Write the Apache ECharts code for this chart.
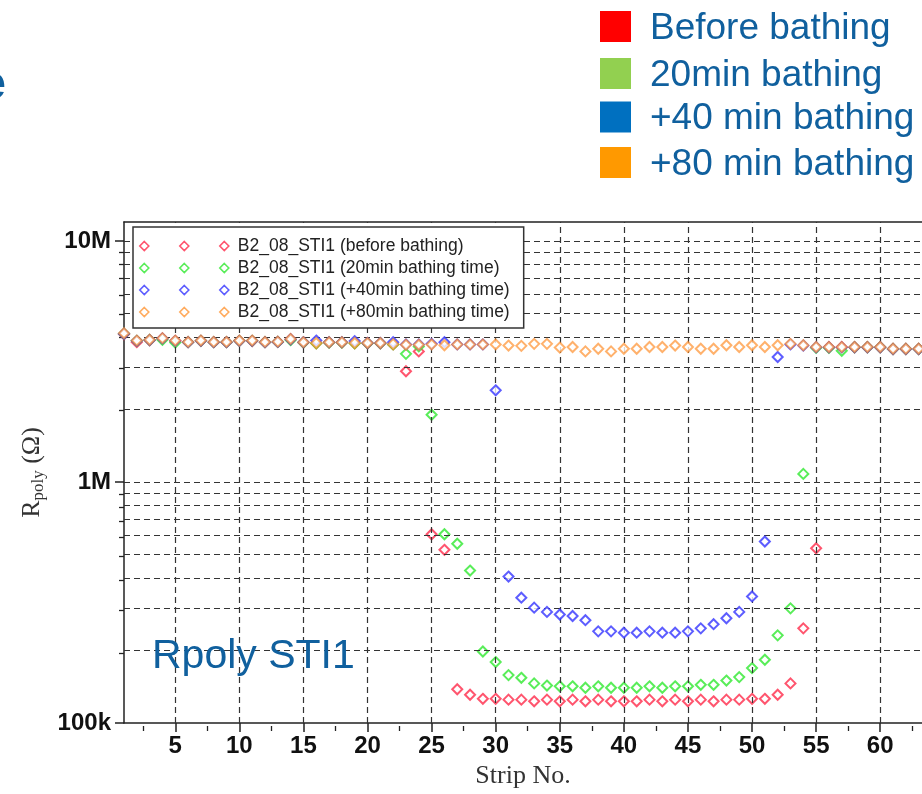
<!DOCTYPE html>
<html>
<head>
<meta charset="utf-8">
<script src="https://cdn.jsdelivr.net/npm/echarts@6/dist/echarts.min.js"></script>
<style>
html,body{margin:0;padding:0;background:#fff;}
#chart{width:922px;height:794px;}
</style>
</head>
<body>
<div id="chart"></div>
<script>
// Strip numbers 1..63
const strips = [];
for (let i = 1; i <= 63; i++) strips.push(i);

// Rpoly values (Ohm)
const beforeBathing = [
  4.10e6,3.80e6,3.87e6,3.93e6,3.84e6,3.80e6,3.85e6,3.80e6,3.80e6,3.85e6,
  3.84e6,3.80e6,3.81e6,3.90e6,3.79e6,3.76e6,3.79e6,3.79e6,3.76e6,3.76e6,
  3.76e6,3.72e6,2.88e6,3.48e6,6.07e5,5.23e5,1.38e5,1.31e5,1.26e5,1.26e5,
  1.25e5,1.25e5,1.23e5,1.25e5,1.23e5,1.25e5,1.23e5,1.25e5,1.23e5,1.23e5,
  1.23e5,1.25e5,1.23e5,1.25e5,1.23e5,1.25e5,1.23e5,1.25e5,1.25e5,1.26e5,
  1.26e5,1.31e5,1.46e5,2.47e5,5.31e5,3.62e6,3.62e6,3.62e6,3.62e6,3.62e6,
  3.56e6,3.56e6,3.56e6
];
const bathing20 = [
  4.12e6,3.85e6,3.88e6,3.89e6,3.79e6,3.80e6,3.85e6,3.80e6,3.80e6,3.85e6,
  3.85e6,3.80e6,3.81e6,3.88e6,3.79e6,3.76e6,3.79e6,3.79e6,3.76e6,3.76e6,
  3.76e6,3.72e6,3.40e6,3.65e6,1.90e6,6.07e5,5.54e5,4.29e5,1.98e5,1.79e5,
  1.58e5,1.54e5,1.46e5,1.43e5,1.42e5,1.42e5,1.40e5,1.42e5,1.40e5,1.40e5,
  1.40e5,1.42e5,1.40e5,1.42e5,1.42e5,1.44e5,1.44e5,1.50e5,1.55e5,1.69e5,
  1.83e5,2.31e5,2.99e5,1.08e6,3.60e6,3.60e6,3.50e6,3.62e6,3.62e6,3.62e6,
  3.56e6,3.56e6,3.56e6
];
const bathing40 = [
  4.12e6,3.85e6,3.88e6,3.94e6,3.85e6,3.80e6,3.85e6,3.80e6,3.80e6,3.85e6,
  3.85e6,3.80e6,3.81e6,3.91e6,3.80e6,3.86e6,3.80e6,3.80e6,3.84e6,3.77e6,
  3.77e6,3.80e6,3.72e6,3.72e6,3.74e6,3.80e6,3.72e6,3.72e6,3.72e6,2.40e6,
  4.05e5,3.31e5,3.01e5,2.89e5,2.82e5,2.78e5,2.67e5,2.40e5,2.40e5,2.37e5,
  2.37e5,2.40e5,2.37e5,2.37e5,2.40e5,2.47e5,2.57e5,2.72e5,2.89e5,3.35e5,
  5.66e5,3.30e6,3.72e6,3.68e6,3.62e6,3.62e6,3.62e6,3.62e6,3.62e6,3.62e6,
  3.56e6,3.56e6,3.56e6
];
const bathing80 = [
  4.14e6,3.86e6,3.89e6,3.95e6,3.86e6,3.81e6,3.86e6,3.81e6,3.81e6,3.86e6,
  3.86e6,3.81e6,3.82e6,3.92e6,3.80e6,3.77e6,3.80e6,3.80e6,3.77e6,3.77e6,
  3.77e6,3.73e6,3.71e6,3.71e6,3.72e6,3.69e6,3.72e6,3.72e6,3.72e6,3.72e6,
  3.68e6,3.67e6,3.74e6,3.74e6,3.61e6,3.63e6,3.48e6,3.57e6,3.48e6,3.57e6,
  3.57e6,3.63e6,3.63e6,3.68e6,3.63e6,3.57e6,3.57e6,3.69e6,3.63e6,3.69e6,
  3.63e6,3.69e6,3.74e6,3.69e6,3.63e6,3.63e6,3.63e6,3.63e6,3.63e6,3.63e6,
  3.57e6,3.57e6,3.57e6
];

const seriesNames = [
  'B2_08_STI1 (before bathing)',
  'B2_08_STI1 (20min bathing time)',
  'B2_08_STI1 (+40min bathing time)',
  'B2_08_STI1 (+80min bathing time)'
];
const slideLegend = ['Before bathing', '20min bathing', '+40 min bathing', '+80 min bathing'];

// Axis ticks / gridlines (data units)
const xLabelTicks = [5,10,15,20,25,30,35,40,45,50,55,60];
const xMinorTicks = [2.5,7.5,12.5,17.5,22.5,27.5,32.5,37.5,42.5,47.5,52.5,57.5,62.5];
const yMajorTicks = [1e5, 1e6, 1e7];
const yMinorTicks = [2e5,3e5,4e5,5e5,6e5,7e5,8e5,9e5,2e6,3e6,4e6,5e6,6e6,7e6,8e6,9e6];
const yGridLines = [2e5,3e5,4e5,5e5,6e5,7e5,8e5,9e5,1e6,2e6,3e6,4e6,5e6,6e6,7e6,8e6,9e6,1e7];
const xGridLines = [5,10,15,20,25,30,35,40,45,50,55,60];

const X_MIN = 1, X_MAX = 63.26, Y_MIN = 1e5, Y_MAX = 1.198e7;

const colors = ['#ff2a4a', '#2fe82f', '#3535ff', 'rgba(255,140,40,0.85)'];
const legendColors = ['#ff2a4a', '#2fe82f', '#3535ff', '#ff9636'];
const slideColors = ['#ff0000', '#92d050', '#0070c0', '#ff9900'];
const blue = '#10609e';

function pairs(vals) { return strips.map((s, i) => [s, vals[i]]); }

const chart = echarts.init(document.getElementById('chart'), null, {renderer: 'canvas'});

const gridRect = {left: 124, top: 222, right: 0, bottom: 68};
const tickFont = {fontFamily: 'Liberation Sans, Arial, sans-serif', fontWeight: 'bold', fontSize: 24, color: '#111'};

const markLineData = yGridLines.map(v => ({yAxis: v})).concat(xGridLines.map(v => ({xAxis: v})));

const diamondIcon = 'path://M4.5 0L9 4.5L4.5 9L0 4.5Z M44.5 0L49 4.5L44.5 9L40 4.5Z M84.5 0L89 4.5L84.5 9L80 4.5Z';

const dataSeries = [beforeBathing, bathing20, bathing40, bathing80].map((vals, k) => ({
  name: seriesNames[k],
  type: 'scatter',
  xAxisIndex: 0, yAxisIndex: 0,
  symbol: 'diamond',
  symbolSize: 10,
  z: 3 + k,
  itemStyle: {color: '#ffffff', borderColor: colors[k], borderWidth: 2},
  data: pairs(vals)
}));

const slideGraphics = [];
slideLegend.forEach((t, i) => {
  const cy = [26.5, 73.5, 117, 162.5][i];
  slideGraphics.push({type: 'rect', shape: {x: 600, y: cy - 15.5, width: 31, height: 31}, style: {fill: slideColors[i]}});
  slideGraphics.push({type: 'text', x: 650, y: cy + 2, style: {text: t, font: '37px "Liberation Sans", Arial, sans-serif', fill: blue, verticalAlign: 'middle', textAlign: 'left'}});
});
slideGraphics.push({type: 'text', x: 6, y: 86, style: {text: 'e', font: 'bold 48px "Liberation Sans", Arial, sans-serif', fill: blue, verticalAlign: 'middle', textAlign: 'right'}});
slideGraphics.push({type: 'text', x: 152, y: 657, z: 50, style: {text: 'Rpoly STI1', font: '41px "Liberation Sans", Arial, sans-serif', fill: blue, verticalAlign: 'middle', textAlign: 'left'}});

const option = {
  animation: false,
  backgroundColor: '#ffffff',
  grid: [
    Object.assign({}, gridRect),
    Object.assign({}, gridRect)
  ],
  legend: {
    data: seriesNames.map((n, k) => ({name: n, itemStyle: {color: '#ffffff', borderColor: legendColors[k], borderWidth: 1.6}})),
    orient: 'vertical',
    left: 133, top: 227,
    padding: [10, 14, 7, 6],
    itemWidth: 89, itemHeight: 9, itemGap: 4,
    icon: diamondIcon,
    borderColor: '#333', borderWidth: 1.5,
    backgroundColor: '#ffffff',
    textStyle: {fontFamily: 'Liberation Sans, Arial, sans-serif', fontSize: 17.5, color: '#222', padding: [0, 0, 0, 4]},
    selectedMode: false,
    z: 20
  },
  xAxis: [
    {
      type: 'value', gridIndex: 0, position: 'bottom', min: X_MIN, max: X_MAX,
      name: 'Strip No.', nameLocation: 'middle', nameGap: 40,
      nameTextStyle: {fontFamily: 'Liberation Serif, Times New Roman, serif', fontSize: 26, color: '#333'},
      axisLine: {show: true, onZero: false, lineStyle: {color: '#222', width: 1.5}},
      axisTick: {show: true, inside: false, length: 9, customValues: xLabelTicks, lineStyle: {color: '#222', width: 1.5}},
      axisLabel: Object.assign({show: true, margin: 11, customValues: xLabelTicks}, tickFont),
      splitLine: {show: false}
    },
    {
      type: 'value', gridIndex: 0, position: 'top', min: X_MIN, max: X_MAX,
      axisLine: {show: true, onZero: false, lineStyle: {color: '#222', width: 1.5}},
      axisTick: {show: false}, axisLabel: {show: false}, splitLine: {show: false}
    },
    {
      type: 'value', gridIndex: 1, position: 'bottom', min: X_MIN, max: X_MAX,
      axisLine: {show: false, onZero: false},
      axisTick: {show: true, inside: false, length: 5, customValues: xMinorTicks, lineStyle: {color: '#222', width: 1.3}},
      axisLabel: {show: false}, splitLine: {show: false}
    }
  ],
  yAxis: [
    {
      type: 'log', logBase: 10, gridIndex: 0, min: Y_MIN, max: Y_MAX,
      name: '{r|R}{s|poly}{r| (Ω)}', nameLocation: 'middle', nameGap: 68, nameRotate: 90,
      nameTextStyle: {
        color: '#333',
        rich: {
          r: {fontFamily: 'Liberation Serif, Times New Roman, serif', fontSize: 26, color: '#333'},
          s: {fontFamily: 'Liberation Serif, Times New Roman, serif', fontSize: 17, color: '#333', padding: [13, 0, 0, 0]}
        }
      },
      axisLine: {show: true, onZero: false, lineStyle: {color: '#222', width: 1.5}},
      axisTick: {show: true, inside: false, length: 9, customValues: yMajorTicks, lineStyle: {color: '#222', width: 1.5}},
      axisLabel: Object.assign({
        show: true, margin: 13, customValues: yMajorTicks,
        formatter: function (v) {
          if (Math.abs(v - 1e7) < 1) return '10M';
          if (Math.abs(v - 1e6) < 1) return '1M';
          if (Math.abs(v - 1e5) < 1) return '100k';
          return '';
        }
      }, tickFont),
      splitLine: {show: false}
    },
    {
      type: 'log', logBase: 10, gridIndex: 1, min: Y_MIN, max: Y_MAX,
      axisLine: {show: false, onZero: false},
      axisTick: {show: true, inside: false, length: 5, customValues: yMinorTicks, lineStyle: {color: '#222', width: 1.3}},
      axisLabel: {show: false}, splitLine: {show: false}
    }
  ],
  graphic: slideGraphics,
  series: [
    {
      name: 'grid',
      type: 'scatter', xAxisIndex: 0, yAxisIndex: 0, z: 1,
      data: [],
      silent: true,
      markLine: {
        silent: true, symbol: ['none', 'none'],
        label: {show: false},
        lineStyle: {type: [6, 4], color: '#333', width: 1.2},
        emphasis: {disabled: true},
        data: markLineData
      }
    }
  ].concat(dataSeries)
};

chart.setOption(option);
</script>
</body>
</html>
